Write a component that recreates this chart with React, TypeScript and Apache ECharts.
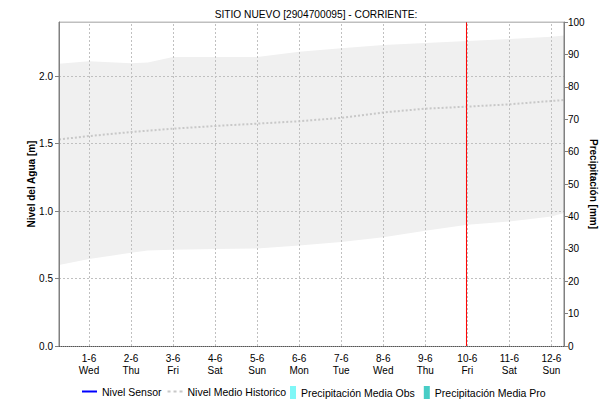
import React, { useEffect, useRef } from "react";
import * as echarts from "echarts";

const chartTitle = "SITIO NUEVO [2904700095] - CORRIENTE:";
const dayLabels = ["1-6", "2-6", "3-6", "4-6", "5-6", "6-6", "7-6", "8-6", "9-6", "10-6", "11-6", "12-6"];
const weekdays = ["Wed", "Thu", "Fri", "Sat", "Sun", "Mon", "Tue", "Wed", "Thu", "Fri", "Sat", "Sun"];
// sample positions in days after 1-6 00:00
const sampleDays = [-0.714, 0, 1, 1.4, 2, 3, 4, 5, 6, 7, 8, 9, 10, 11, 11.3];
const upperHist = [2.09, 2.11, 2.095, 2.1, 2.14, 2.14, 2.14, 2.18, 2.205, 2.23, 2.245, 2.26, 2.275, 2.29, 2.3];
const lowerHist = [0.6, 0.645, 0.69, 0.708, 0.713, 0.718, 0.723, 0.745, 0.77, 0.805, 0.854, 0.899, 0.923, 0.96, 0.985];
const meanHist = [1.53, 1.555, 1.585, 1.595, 1.61, 1.63, 1.647, 1.665, 1.69, 1.73, 1.758, 1.773, 1.79, 1.815, 1.822];
const sensorLevel: number[] = [];
const precipObs: number[] = [];
const precipPro: number[] = [];
const currentDay = 8.98;
const levelTicks = [0, 0.5, 1, 1.5, 2];
const levelMax = 2.4;
const xMin = -0.714;
const xMax = 11.3;

const FONT = "Liberation Sans";

export default function App() {
  const ref = useRef<HTMLDivElement>(null);
  useEffect(() => {
    if (!ref.current) return;
    const chart = echarts.init(ref.current, undefined, { renderer: "svg", width: 607, height: 401 });
    const dayTicks = dayLabels.map((_, i) => i);
    const pts = (ys: number[]) => sampleDays.map((d, i) => [d, ys[i]]);
    const legendText = { fontSize: 10.5, color: "#000", fontFamily: FONT };
    const option: any = {
      animation: false,
      textStyle: { fontFamily: FONT },
      title: {
        text: chartTitle,
        left: 311,
        textAlign: "center",
        top: 4,
        textStyle: { fontSize: 10.2, fontWeight: "normal", color: "#000", fontFamily: FONT },
      },
      legend: [
        {
          left: 82,
          top: 386,
          padding: 0,
          itemWidth: 15,
          itemHeight: 12,
          itemGap: 6,
          textStyle: legendText,
          data: [
            { name: "Nivel Sensor", icon: "path://M0,0h15v2h-15z", itemStyle: { color: "#0000ff" } },
            {
              name: "Nivel Medio Historico",
              icon: "path://M0,0h3v2h-3zM6,0h3v2h-3zM12,0h3v2h-3z",
              itemStyle: { color: "#c8c8c8" },
            },
          ],
        },
        {
          left: 290,
          top: 386,
          padding: 0,
          itemWidth: 6,
          itemHeight: 13,
          itemGap: 9,
          textStyle: legendText,
          data: [
            { name: "Precipitación Media Obs", icon: "rect" },
            { name: "Precipitación Media Pro", icon: "rect" },
          ],
        },
      ],
      grid: { left: 59, right: 43, top: 22, bottom: 55, containLabel: false, outerBoundsMode: "none" },
      xAxis: {
        type: "value",
        min: xMin,
        max: xMax,
        z: 10,
        axisLine: { show: true, onZero: false, lineStyle: { color: "#555", type: "dotted", width: 1 } },
        axisTick: { show: false, customValues: dayTicks },
        axisLabel: {
          customValues: dayTicks,
          formatter: (v: number) => {
            const i = Math.round(v);
            return dayLabels[i] + "\n" + weekdays[i];
          },
          fontSize: 10,
          color: "#000",
          lineHeight: 12,
          margin: 6,
          fontFamily: FONT,
        },
        splitLine: { show: false },
      },
      yAxis: [
        {
          type: "value",
          min: 0,
          max: levelMax,
          position: "left",
          z: 10,
          name: "Nivel del Agua [m]",
          nameLocation: "middle",
          nameMoveOverlap: false,
          nameGap: 23,
          nameTextStyle: { fontSize: 10, fontWeight: "bold", color: "#000", fontFamily: FONT },
          axisLine: { show: true, onZero: false, lineStyle: { color: "#808080" } },
          axisTick: { show: true, length: 4, customValues: levelTicks, lineStyle: { color: "#808080" } },
          axisLabel: {
            customValues: levelTicks,
            formatter: (v: number) => v.toFixed(1),
            fontSize: 10,
            color: "#000",
            margin: 6,
            fontFamily: FONT,
          },
          splitLine: { show: false },
        },
        {
          type: "value",
          min: 0,
          max: 100,
          interval: 10,
          position: "right",
          z: 10,
          name: "Precipitación [mm]",
          nameLocation: "middle",
          nameMoveOverlap: false,
          nameRotate: -90,
          nameGap: 24,
          nameTextStyle: { fontSize: 10, fontWeight: "bold", color: "#000", fontFamily: FONT },
          axisLine: { show: true, onZero: false, lineStyle: { color: "#808080" } },
          axisTick: { show: true, length: 4, lineStyle: { color: "#808080" } },
          axisLabel: { fontSize: 10, color: "#000", margin: 4, fontFamily: FONT },
          splitLine: { show: false },
        },
      ],
      series: [
        {
          name: "upperBand",
          type: "line",
          data: pts(upperHist),
          symbol: "none",
          lineStyle: { opacity: 0 },
          areaStyle: { color: "#f0f0f0", opacity: 1 },
          silent: true,
          z: 1,
        },
        {
          name: "lowerBand",
          type: "line",
          data: pts(lowerHist),
          symbol: "none",
          lineStyle: { opacity: 0 },
          areaStyle: { color: "#ffffff", opacity: 1 },
          silent: true,
          z: 2,
          markLine: {
            silent: true,
            symbol: "none",
            label: { show: false },
            lineStyle: { color: "#c0c0c0", type: [2, 2], width: 1 },
            data: [
              ...dayTicks.map((d) => ({ xAxis: d })),
              ...levelTicks.filter((v) => v > 0).map((v) => ({ yAxis: v })),
            ],
          },
        },
        {
          name: "frame",
          type: "line",
          data: [
            [xMin, levelMax],
            [xMax, levelMax],
          ],
          symbol: "none",
          lineStyle: { color: "#808080", width: 1 },
          silent: true,
          z: 5,
        },
        {
          name: "frameLeft",
          type: "line",
          data: [
            [xMin, 0],
            [xMin, levelMax],
          ],
          symbol: "none",
          lineStyle: { color: "#808080", width: 1 },
          silent: true,
          z: 5,
        },
        {
          name: "frameRight",
          type: "line",
          data: [
            [xMax, 0],
            [xMax, levelMax],
          ],
          symbol: "none",
          lineStyle: { color: "#808080", width: 1 },
          silent: true,
          z: 5,
        },
        {
          name: "Nivel Medio Historico",
          type: "line",
          data: pts(meanHist),
          symbol: "none",
          color: "#c8c8c8",
          lineStyle: { color: "#c8c8c8", width: 2, type: [2, 2] },
          z: 3,
        },
        {
          name: "currentTime",
          type: "line",
          data: [
            [currentDay, 0],
            [currentDay, levelMax],
          ],
          symbol: "none",
          color: "#ff0000",
          lineStyle: { color: "#ff0000", width: 1, type: "solid" },
          silent: true,
          z: 4,
        },
        {
          name: "Nivel Sensor",
          type: "line",
          data: sensorLevel,
          symbol: "none",
          color: "#0000ff",
          lineStyle: { color: "#0000ff", width: 1 },
          z: 4,
        },
        {
          name: "Precipitación Media Obs",
          type: "bar",
          yAxisIndex: 1,
          data: precipObs,
          color: "#7ff7f7",
        },
        {
          name: "Precipitación Media Pro",
          type: "bar",
          yAxisIndex: 1,
          data: precipPro,
          color: "#48cdc6",
        },
      ],
    };
    chart.setOption(option);
    return () => chart.dispose();
  }, []);
  return <div ref={ref} style={{ width: 607, height: 401, position: "absolute", left: 0, top: 0 }} />;
}
